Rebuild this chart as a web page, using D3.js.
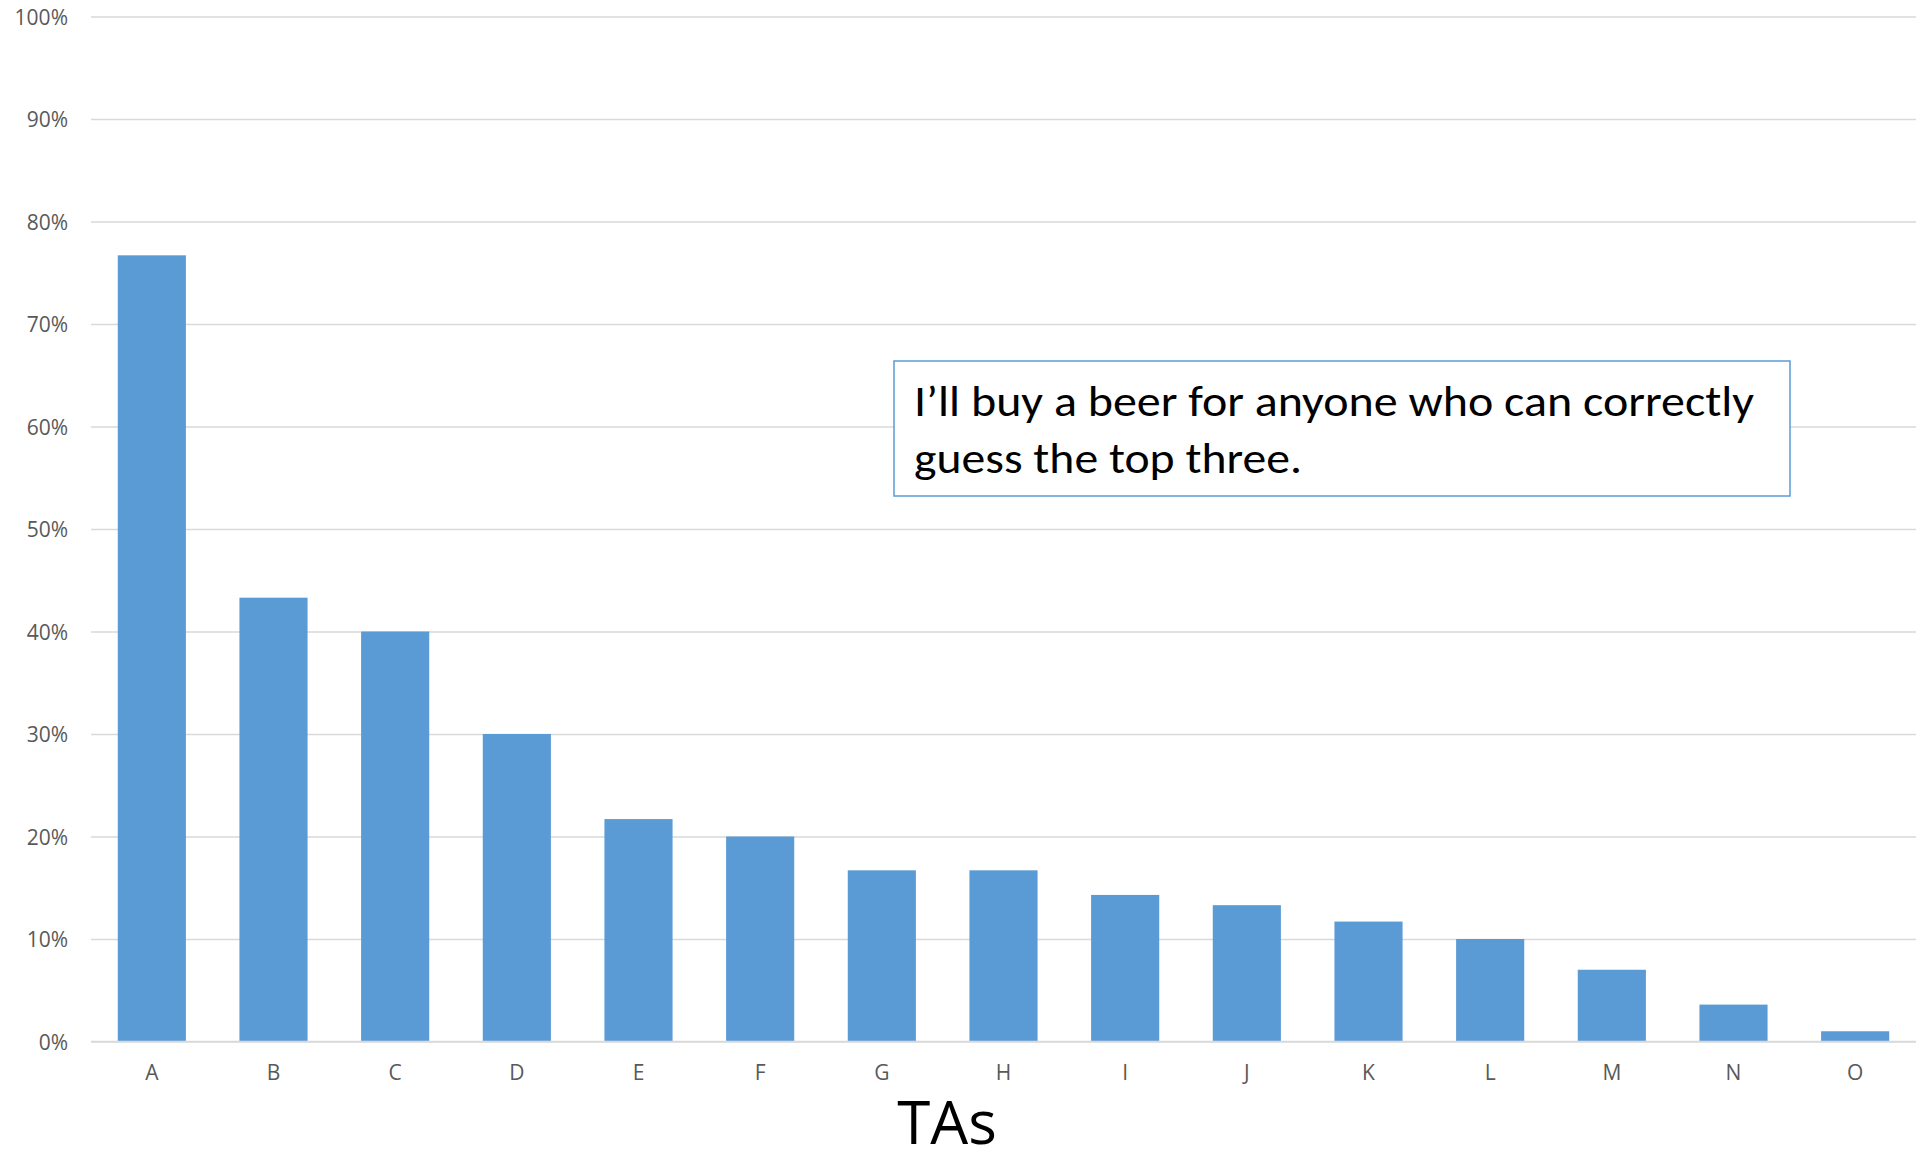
<!DOCTYPE html>
<html lang="en">
<head>
<meta charset="UTF-8" />
<title>TAs</title>
<script src="https://d3js.org/d3.v7.min.js"></script>
<style>
  html, body { margin: 0; padding: 0; background: #fff; }
  svg { display: block; }
  .tick text { font-family: "Open Sans", "Noto Sans", sans-serif; fill: #595959; }
</style>
</head>
<body>
<div id="chart"></div>
<script>
const categories = ["A","B","C","D","E","F","G","H","I","J","K","L","M","N","O"];
const values = [0.767, 0.433, 0.40, 0.30, 0.217, 0.20, 0.167, 0.167, 0.143, 0.133, 0.117, 0.10, 0.07, 0.036, 0.01];
const yTicks = [0, 0.1, 0.2, 0.3, 0.4, 0.5, 0.6, 0.7, 0.8, 0.9, 1.0];
const noteLines = ["I\u2019ll buy a beer for anyone who can correctly", "guess the top three."];

const width = 1921, height = 1161;
const margin = { top: 16.5, right: 5, bottom: 119.5, left: 91 };

const svg = d3.select("#chart").append("svg")
  .attr("width", width)
  .attr("height", height);

const x = d3.scaleBand()
  .domain(categories)
  .range([margin.left, width - margin.right])
  .paddingInner(0.44)
  .paddingOuter(0.22);

const y = d3.scaleLinear()
  .domain([0, 1])
  .range([height - margin.bottom, margin.top]);

// gridlines + y labels
const yAxis = svg.append("g")
  .attr("transform", `translate(${margin.left},0)`)
  .call(d3.axisLeft(y).tickValues(yTicks).tickFormat(d3.format(".0%"))
    .tickSize(-(width - margin.right - margin.left)).tickPadding(23));
yAxis.select(".domain").remove();
yAxis.selectAll(".tick line").attr("stroke", "#d9d9d9").attr("stroke-width", 1.5);
yAxis.selectAll(".tick text").attr("font-size", 21).attr("dy", "0.36em");

// bars
svg.append("g").selectAll("rect")
  .data(values)
  .join("rect")
  .attr("x", (d, i) => x(categories[i]))
  .attr("y", d => y(d))
  .attr("width", x.bandwidth())
  .attr("height", d => y(0) - y(d))
  .attr("fill", "#5b9bd5");

// baseline redrawn above bars
svg.append("line")
  .attr("x1", margin.left).attr("x2", width - margin.right)
  .attr("y1", y(0)).attr("y2", y(0))
  .attr("stroke", "#d9d9d9").attr("stroke-width", 1.5);

// x labels
const xAxis = svg.append("g")
  .attr("transform", `translate(0,${y(0)})`)
  .call(d3.axisBottom(x).tickSize(0).tickPadding(24));
xAxis.select(".domain").remove();
xAxis.selectAll(".tick text").attr("font-size", 21);

// axis title
svg.append("text")
  .attr("x", 947)
  .attr("y", 1144)
  .attr("text-anchor", "middle")
  .attr("font-family", "'Open Sans', 'Noto Sans', sans-serif")
  .attr("font-size", 60)
  .attr("fill", "#000")
  .text("TAs");

// annotation box
const box = svg.append("g");
box.append("rect")
  .attr("x", 894).attr("y", 361)
  .attr("width", 896).attr("height", 135)
  .attr("fill", "#fff")
  .attr("stroke", "#5b9bd5")
  .attr("stroke-width", 1.5);

// Calibri is not available, so stretch the line to the original width
const noteWidths = [840, 388];
box.selectAll("text")
  .data(noteLines)
  .join("text")
  .attr("x", 914)
  .attr("y", (d, i) => 416 + i * 57)
  .attr("font-family", "Carlito, 'Open Sans', 'Noto Sans', sans-serif")
  .attr("font-size", 44)
  .attr("fill", "#000")
  .attr("textLength", (d, i) => noteWidths[i])
  .attr("lengthAdjust", "spacingAndGlyphs")
  .text(d => d);
</script>
</body>
</html>
